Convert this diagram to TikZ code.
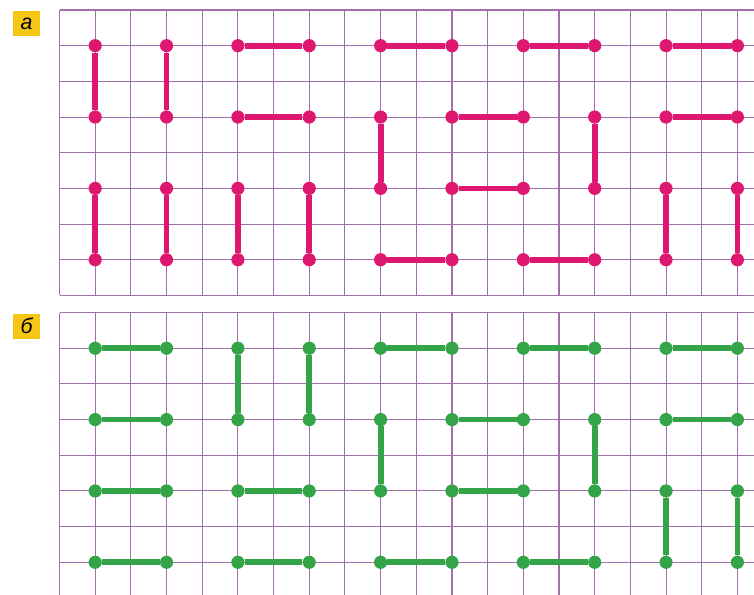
\documentclass[tikz,border=0pt]{standalone}
\usepackage{fontspec}
\setmainfont{Liberation Sans}
\definecolor{gridpurple}{RGB}{162,110,172}
\definecolor{dotpink}{RGB}{222,24,112}
\definecolor{dotgreen}{RGB}{52,164,72}
\definecolor{tagyellow}{RGB}{246,198,20}

\tikzset{
  gridline/.style={draw=gridpurple, line width=0.85pt},
  tag/.style={fill=tagyellow, inner sep=0pt, minimum width=0.76cm,
    minimum height=0.70cm, font=\itshape\fontsize{17}{17}\selectfont},
  pinkdot/.style={circle, fill=dotpink, inner sep=0pt, minimum size=10.5pt},
  greendot/.style={circle, fill=dotgreen, inner sep=0pt, minimum size=10.5pt},
  pinkseg/.style={draw=dotpink, line width=4.6pt},
  greenseg/.style={draw=dotgreen, line width=4.6pt}
}

\begin{document}
\begin{tikzpicture}
  \useasboundingbox (-1.668,0.280) rectangle (19.465,-16.396);
  \clip (-1.668,0.280) rectangle (19.465,-16.396);
  % panel a
  \draw[gridline] (0,-8) grid (19.6,0);
  \node[tag] (taga) at (-0.925,-0.378) {а};
  \foreach \xa/\ya/\xb/\yb [count=\k] in
    {1/1/1/3, 3/1/3/3, 5/1/7/1, 5/3/7/3, 1/5/1/7, 3/5/3/7, 5/5/5/7, 7/5/7/7,
     9/1/11/1, 9/3/9/5, 11/3/13/3, 11/5/13/5, 9/7/11/7,
     13/1/15/1, 15/3/15/5, 13/7/15/7,
     17/1/19/1, 17/3/19/3, 17/5/17/7, 19/5/19/7}
  {
    \node[pinkdot] (pa\k) at (\xa,-\ya) {};
    \node[pinkdot] (qa\k) at (\xb,-\yb) {};
    \draw[pinkseg] (pa\k) -- (qa\k);
  }
  % panel b
  \begin{scope}[shift={(0,-8.48)}]
    \draw[gridline] (0,-8) grid (19.6,0);
    \node[tag] (tagb) at (-0.925,-0.378) {б};
    \foreach \xa/\ya/\xb/\yb [count=\k] in
      {1/1/3/1, 1/3/3/3, 1/5/3/5, 1/7/3/7, 5/1/5/3, 7/1/7/3, 5/5/7/5, 5/7/7/7,
       9/1/11/1, 9/3/9/5, 11/3/13/3, 11/5/13/5, 9/7/11/7,
       13/1/15/1, 15/3/15/5, 13/7/15/7,
       17/1/19/1, 17/3/19/3, 17/5/17/7, 19/5/19/7}
    {
      \node[greendot] (pb\k) at (\xa,-\ya) {};
      \node[greendot] (qb\k) at (\xb,-\yb) {};
      \draw[greenseg] (pb\k) -- (qb\k);
    }
  \end{scope}
\end{tikzpicture}
\end{document}
